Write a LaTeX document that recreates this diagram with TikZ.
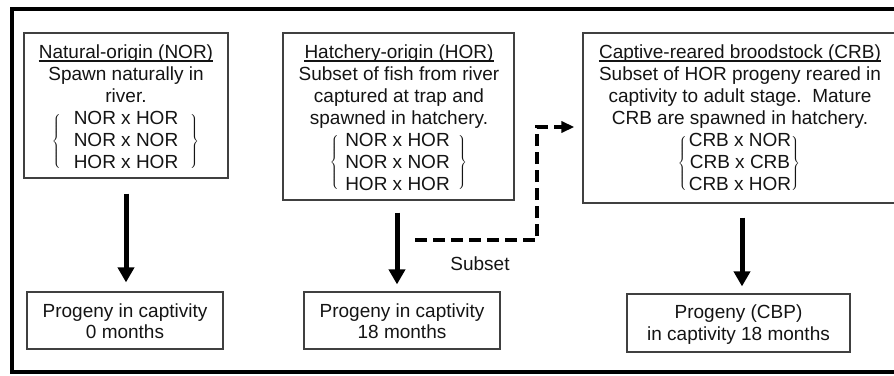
\documentclass[tikz,border=0pt]{standalone}
\usepackage{fontspec}
\setmainfont{Liberation Sans}
\usetikzlibrary{arrows.meta}
\definecolor{boxline}{gray}{0.25}
\definecolor{ink}{gray}{0.08}
\newcommand\diagfont{\fontsize{19}{22}\selectfont}
\newcommand\lbr[1]{$\left\{\vcenter{\hbox{\rule{0pt}{#1}}}\right.$}
\newcommand\rbr[1]{$\left.\vcenter{\hbox{\rule{0pt}{#1}}}\right\}$}
\begin{document}
\begin{tikzpicture}[x=1pt,y=-1pt,
  box/.style={draw=boxline, line width=1.2pt, inner sep=0pt, fill=none},
  txt/.style={inner sep=0pt, anchor=base, font=\diagfont, text=ink},
  bracenode/.style={inner sep=0pt, anchor=center, font=\diagfont, text=ink},
  ul/.style={draw=ink, line width=1.2pt},
  bigarrow/.style={draw=black, line width=5pt, -{Triangle[length=15pt,width=16pt]}},
  dashline/.style={draw=black, line width=4pt, dash pattern=on 12pt off 6pt,
    -{Triangle[length=13pt,width=11pt]}}]
\useasboundingbox (0,0) rectangle (894,375);
\clip (0,0) rectangle (894,375);
% outer frame
\draw[line width=4.5pt, black] (12,9) rectangle (906,372);
% boxes
\node[box, minimum width=204pt, minimum height=145pt] (nor) at (126,105.5) {};
\node[box, minimum width=231pt, minimum height=167pt] (hor) at (398.5,116.5) {};
\node[box, minimum width=315pt, minimum height=170pt] (crb) at (740.5,118) {};
\node[box, minimum width=196pt, minimum height=57pt] (p0) at (125,320.5) {};
\node[box, minimum width=196pt, minimum height=57pt] (p18) at (402,320.5) {};
\node[box, minimum width=223pt, minimum height=58pt] (cbp) at (738.5,323) {};
% NOR text
\node[txt] (n1) at (126,58) {Natural-origin (NOR)};
\draw[ul] ([yshift=-3pt]n1.base west) -- ([yshift=-3pt]n1.base east);
\node[txt] (n2) at (126,80) {Spawn naturally in};
\node[txt] (n3) at (126,102) {river.};
\node[txt] (n4) at (126,124) {NOR x HOR};
\node[txt] (n5) at (126,146) {NOR x NOR};
\node[txt] (n6) at (126,168) {HOR x HOR};
\node[bracenode] (nbl) at (57,141.5) {\lbr{54pt}};
\node[bracenode] (nbr) at (194,141.5) {\rbr{54pt}};
% HOR text
\node[txt] (h1) at (399,58) {Hatchery-origin (HOR)};
\draw[ul] ([yshift=-3pt]h1.base west) -- ([yshift=-3pt]h1.base east);
\node[txt] (h2) at (399,80) {Subset of fish from river};
\node[txt] (h3) at (399,102) {captured at trap and};
\node[txt] (h4) at (399,124) {spawned in hatchery.};
\node[txt] (h5) at (397.5,146) {NOR x HOR};
\node[txt] (h6) at (397.5,168) {NOR x NOR};
\node[txt] (h7) at (397.5,190) {HOR x HOR};
\node[bracenode] (hbl) at (335,162.5) {\lbr{54pt}};
\node[bracenode] (hbr) at (462,162.5) {\rbr{54pt}};
% CRB text
\node[txt] (c1) at (740,58) {Captive-reared broodstock (CRB)};
\draw[ul] ([yshift=-3pt]c1.base west) -- ([yshift=-3pt]c1.base east);
\node[txt] (c2) at (740,80) {Subset of HOR progeny reared in};
\node[txt] (c3) at (740,102) {captivity to adult stage.\ \ Mature};
\node[txt] (c4) at (740,124) {CRB are spawned in hatchery.};
\node[txt] (c5) at (740,146) {CRB x NOR};
\node[txt] (c6) at (740,168) {CRB x CRB};
\node[txt] (c7) at (740,190) {CRB x HOR};
\node[bracenode] (cbl) at (683,163) {\lbr{54pt}};
\node[bracenode] (cbr) at (795,163) {\rbr{54pt}};
% progeny text
\node[txt] (q1) at (125,317) {Progeny in captivity};
\node[txt] (q2) at (125,338) {0 months};
\node[txt] (r1) at (402,317) {Progeny in captivity};
\node[txt] (r2) at (402,338) {18 months};
\node[txt] (s1) at (738.5,318) {Progeny (CBP)};
\node[txt] (s2) at (738.5,340) {in captivity 18 months};
\node[txt] (sub) at (480,270) {Subset};
% arrows
\draw[bigarrow, shorten <=15pt, shorten >=9pt] (nor.south) -- (nor.south |- p0.north);
\draw[bigarrow, shorten <=12pt, shorten >=7pt] ([xshift=-1.5pt]hor.south) -- ([xshift=-1.5pt]hor.south |- p18.north);
\draw[bigarrow, shorten <=14pt, shorten >=7pt] ([xshift=1.5pt]crb.south) -- ([xshift=1.5pt]crb.south |- cbp.north);
% dashed subset connector
\coordinate (ds) at (415,240);
\coordinate (dc) at (537,127);
\draw[dashline, shorten >=8pt] (ds) -| (dc) -- (dc -| crb.west);
\end{tikzpicture}
\end{document}
